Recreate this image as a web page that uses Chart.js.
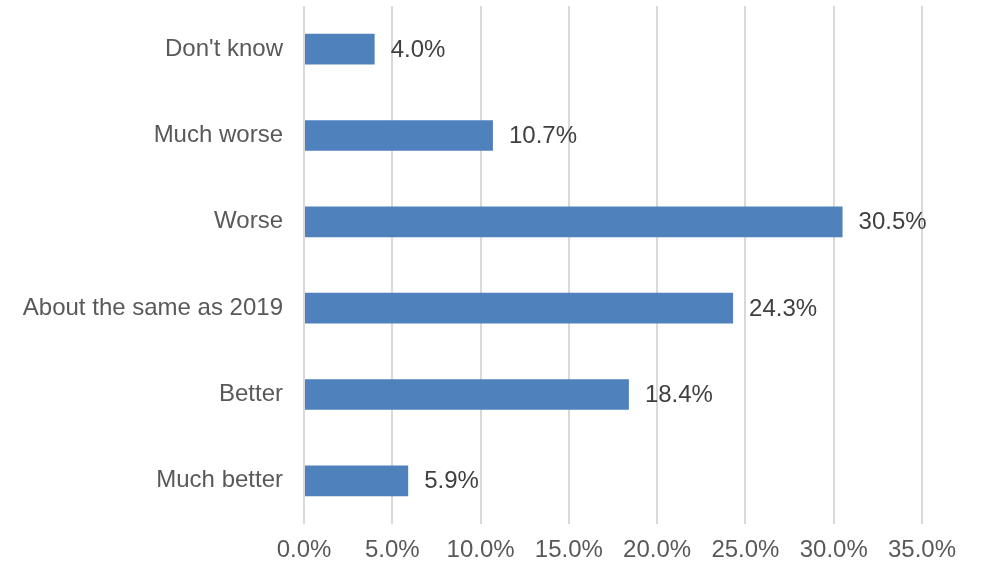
<!DOCTYPE html>
<html>
<head>
<meta charset="utf-8">
<script src="https://cdn.jsdelivr.net/npm/chart.js@4/dist/chart.umd.min.js"></script>
<style>
  html, body { margin: 0; padding: 0; background: #ffffff; }
  #wrap { width: 987px; height: 565px; position: relative; }
</style>
</head>
<body>
<div id="wrap"><canvas id="chart"></canvas></div>
<script>
// Survey responses, listed top to bottom
const categories = ["Don't know", "Much worse", "Worse", "About the same as 2019", "Better", "Much better"];
const shares = [4.0, 10.7, 30.5, 24.3, 18.4, 5.9];
const xTicks = [0, 5, 10, 15, 20, 25, 30, 35];

const FONT = "'Liberation Sans', Arial, sans-serif";

// Writes each bar's value just past its end
const valueLabels = {
  id: 'valueLabels',
  afterDatasetsDraw(chart) {
    const ctx = chart.ctx;
    const meta = chart.getDatasetMeta(0);
    ctx.save();
    ctx.font = '24px ' + FONT;
    ctx.fillStyle = '#404040';
    ctx.textAlign = 'left';
    ctx.textBaseline = 'middle';
    meta.data.forEach((bar, i) => {
      ctx.fillText(shares[i].toFixed(1) + '%', bar.x + 16, bar.y + 1);
    });
    ctx.restore();
  }
};

new Chart(document.getElementById('chart'), {
  type: 'bar',
  data: {
    labels: categories,
    datasets: [{
      data: shares,
      backgroundColor: '#4f81bd',
      borderWidth: 0,
      categoryPercentage: 1.0,
      barPercentage: 0.355
    }]
  },
  options: {
    indexAxis: 'y',
    responsive: true,
    maintainAspectRatio: false,
    animation: false,
    layout: { padding: { top: 6, right: 65, bottom: 0, left: 0 } },
    plugins: {
      legend: { display: false },
      tooltip: { enabled: false }
    },
    scales: {
      x: {
        min: 0,
        max: 35,
        afterBuildTicks(scale) { scale.ticks = xTicks.map(v => ({ value: v })); },
        afterFit(scale) { scale.height = 41; },
        grid: { color: '#d9d9d9', lineWidth: 2, drawTicks: false },
        border: { display: false },
        ticks: {
          padding: 12,
          color: '#595959',
          font: { family: FONT, size: 24 },
          callback: v => Number(v).toFixed(1) + '%'
        }
      },
      y: {
        afterFit(scale) {
          scale.width = 304;
          scale.paddingTop = 0;
          scale.paddingBottom = 0;
        },
        grid: { display: false, drawTicks: false },
        border: { display: false },
        ticks: {
          padding: 21,
          color: '#595959',
          font: { family: FONT, size: 24 }
        }
      }
    }
  },
  plugins: [valueLabels]
});
</script>
</body>
</html>
